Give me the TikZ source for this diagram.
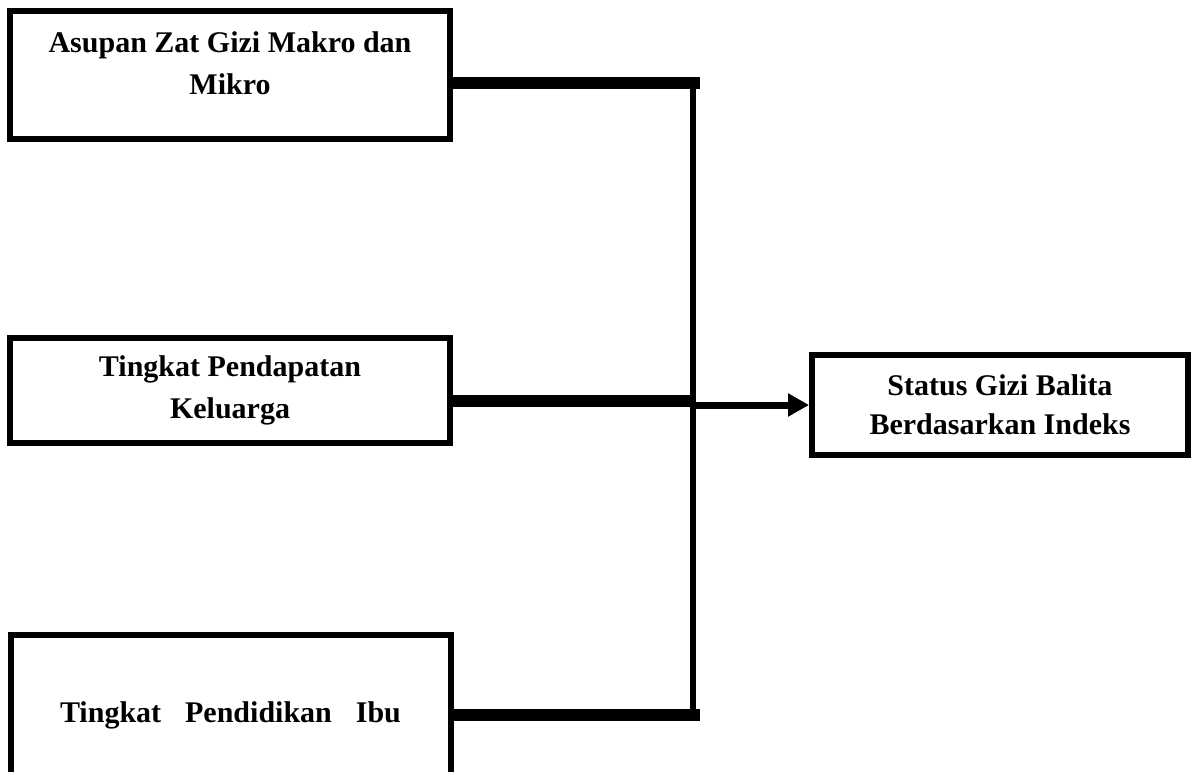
\documentclass[tikz,border=0pt]{standalone}
\usepackage{fontspec}
\setmainfont{Liberation Serif}
\usetikzlibrary{arrows.meta}

\begin{document}
\begin{tikzpicture}
    [
      x=0.5pt, y=-0.5pt,
      factor/.style={draw, line width=3pt, align=center, inner sep=0pt, minimum width=220pt,
        font=\bfseries\fontsize{15}{21}\selectfont},
      link/.style={line width=6pt},
      bus/.style={line width=3pt},
      post/.style={-{Triangle[length=10.5pt,width=11pt]}, line width=3.5pt},
    ]
    \useasboundingbox (0,0) rectangle (1191,772);
    \clip (0,0) rectangle (1191,772);

    \node (asupan) [factor, minimum height=64pt, text depth=12pt] at (230,75) {Asupan Zat Gizi Makro dan\\Mikro};

    \node (pendapatan) [factor, minimum height=52.5pt] at (230,390.5) {Tingkat Pendapatan\\Keluarga};

    \node (pendidikan) [factor, minimum height=80pt] at (230.5,715) {Tingkat\hspace{0.8em}Pendidikan\hspace{0.8em}Ibu};

    \node (status) [factor, minimum width=188pt, minimum height=50pt,
      font=\bfseries\fontsize{15}{19.5}\selectfont] at (1000,405) {Status Gizi Balita\\Berdasarkan Indeks};

    \coordinate (bus-top) at (693,83);
    \coordinate (bus-mid) at (693,401);
    \coordinate (bus-bot) at (693,715);
    \coordinate (end-top) at (700,83);
    \coordinate (end-bot) at (700,715);

    \draw [bus] (bus-top) -- (bus-bot);
    \draw [link] (asupan.east |- end-top) -- (end-top);
    \draw [link] (pendapatan.east |- bus-mid) -- (bus-mid);
    \draw [link] (pendidikan.east |- end-bot) -- (end-bot);
    \draw [post] (bus-top |- status.west) -- (status.west);

\end{tikzpicture}
\end{document}
